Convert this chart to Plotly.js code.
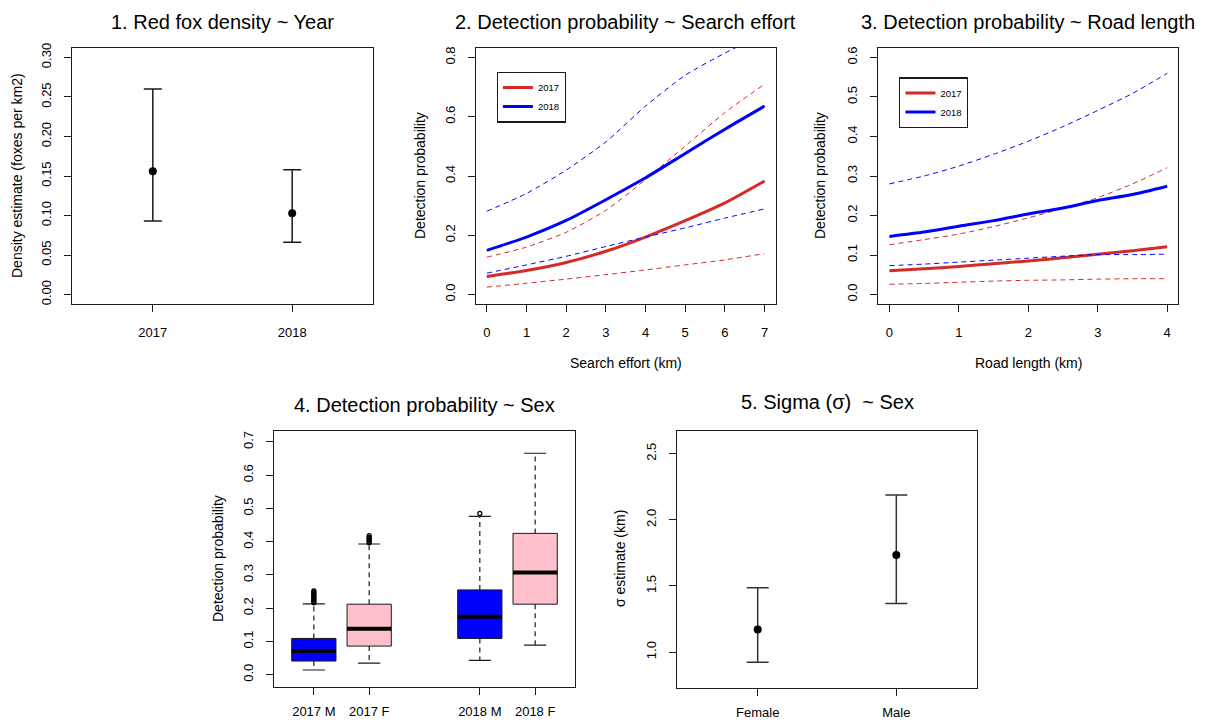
<!DOCTYPE html>
<html>
<head>
<meta charset="utf-8">
<script src="https://cdn.plot.ly/plotly-3.0.1.min.js"></script>
<style>html,body{margin:0;padding:0;background:#fff;}#chart{width:1207px;height:722px;}</style>
</head>
<body>
<div id="chart"></div>
<script>
// ---------- DATA ----------
// Panel 1: Red fox density ~ Year
const years = ["2017", "2018"];
const densityEst = [0.156, 0.103];
const densityLow = [0.093, 0.066];
const densityHigh = [0.260, 0.158];

// Panel 2: Detection probability ~ Search effort
const effortKm = [0, 1, 2, 3, 4, 5, 6, 7];
const eff2017Mean = [0.061, 0.081, 0.108, 0.146, 0.194, 0.249, 0.309, 0.383];
const eff2017Low  = [0.025, 0.038, 0.052, 0.067, 0.083, 0.100, 0.117, 0.138];
const eff2017High = [0.126, 0.160, 0.210, 0.284, 0.388, 0.501, 0.614, 0.710];
const eff2018Mean = [0.149, 0.194, 0.250, 0.320, 0.394, 0.476, 0.558, 0.636];
const eff2018Low  = [0.072, 0.100, 0.129, 0.162, 0.194, 0.225, 0.258, 0.289];
const eff2018High = [0.281, 0.341, 0.420, 0.515, 0.636, 0.740, 0.815, 0.880];

// Panel 3: Detection probability ~ Road length
const roadKm = [0, 0.5, 1, 1.5, 2, 2.5, 3, 3.5, 4];
const road2017Mean = [0.060, 0.065, 0.071, 0.078, 0.085, 0.093, 0.102, 0.111, 0.121];
const road2017Low  = [0.026, 0.028, 0.031, 0.034, 0.036, 0.037, 0.039, 0.040, 0.040];
const road2017High = [0.126, 0.139, 0.153, 0.172, 0.194, 0.218, 0.245, 0.280, 0.321];
const road2018Mean = [0.147, 0.158, 0.173, 0.187, 0.204, 0.219, 0.238, 0.253, 0.274];
const road2018Low  = [0.073, 0.077, 0.082, 0.087, 0.092, 0.097, 0.101, 0.101, 0.102];
const road2018High = [0.280, 0.300, 0.325, 0.355, 0.388, 0.425, 0.466, 0.509, 0.560];
const legendYears = ["2017", "2018"];

// Panel 4: Detection probability ~ Sex (boxplots)
const boxLabels = ["2017 M", "2017 F", "2018 M", "2018 F"];
const boxYearIdx = [0, 0, 1, 1];
const boxSexIdx = [0, 1, 0, 1];
const boxLowerWhisker = [0.014, 0.035, 0.043, 0.089];
const boxQ1 = [0.041, 0.086, 0.109, 0.212];
const boxMedian = [0.071, 0.138, 0.174, 0.307];
const boxQ3 = [0.109, 0.212, 0.255, 0.425];
const boxUpperWhisker = [0.213, 0.393, 0.476, 0.666];
const boxOutliers = [
  [0.216, 0.220, 0.224, 0.228, 0.232, 0.236, 0.240, 0.244, 0.248, 0.252],
  [0.397, 0.401, 0.405, 0.409, 0.413, 0.418],
  [0.485],
  []
];

// Panel 5: Sigma ~ Sex
const sexes = ["Female", "Male"];
const sigmaEst = [1.171, 1.734];
const sigmaLow = [0.922, 1.368];
const sigmaHigh = [1.487, 2.187];

// ---------- STYLE ----------
const W = 1207, H = 722;
const FONT = "Liberation Sans, Arial, sans-serif";
const RED = "#d42a2a", BLUE = "#0000ff", INK = "#1a1a1a";
const boxFill = ["#0000ff", "#ffc0cb"];
const px = v => v / W;
const py = v => 1 - v / H;

const traces = [];

// Panel 1
traces.push({
  type: "scatter", mode: "markers", x: years, y: densityEst, xaxis: "x", yaxis: "y",
  marker: {color: "#000", size: 8}, showlegend: false,
  error_y: {type: "data", symmetric: false,
    array: densityHigh.map((h, i) => h - densityEst[i]),
    arrayminus: densityLow.map((l, i) => densityEst[i] - l),
    color: INK, thickness: 1.5, width: 9}
});

// Panels 2 & 3 line sets
function lineSet(xs, mean, low, high, color, name, xa, ya, legend) {
  traces.push({type: "scatter", mode: "lines", x: xs, y: low, xaxis: xa, yaxis: ya,
    line: {color: color, width: 1, dash: "5px,4px", shape: "spline", smoothing: 0.6}, showlegend: false, hoverinfo: "skip"});
  traces.push({type: "scatter", mode: "lines", x: xs, y: high, xaxis: xa, yaxis: ya,
    line: {color: color, width: 1, dash: "5px,4px", shape: "spline", smoothing: 0.6}, showlegend: false, hoverinfo: "skip"});
  traces.push({type: "scatter", mode: "lines", x: xs, y: mean, xaxis: xa, yaxis: ya, name: name,
    line: {color: color, width: 3, shape: "spline", smoothing: 0.6}, showlegend: true, legend: legend});
}
lineSet(effortKm, eff2017Mean, eff2017Low, eff2017High, RED, legendYears[0], "x2", "y2", "legend");
lineSet(effortKm, eff2018Mean, eff2018Low, eff2018High, BLUE, legendYears[1], "x2", "y2", "legend");
lineSet(roadKm, road2017Mean, road2017Low, road2017High, RED, legendYears[0], "x3", "y3", "legend2");
lineSet(roadKm, road2018Mean, road2018Low, road2018High, BLUE, legendYears[1], "x3", "y3", "legend2");

// Panel 4 boxplots
const boxPos = boxYearIdx.map((yi, i) => yi * 3 + boxSexIdx[i] + 1);
const halfBox = 0.4, halfStaple = 0.2;
boxLabels.forEach((lab, i) => {
  const xc = boxPos[i];
  traces.push({type: "box", xaxis: "x4", yaxis: "y4", x: [xc], name: lab,
    q1: [boxQ1[i]], median: [boxMedian[i]], q3: [boxQ3[i]],
    lowerfence: [boxQ1[i]], upperfence: [boxQ3[i]],
    width: 2 * halfBox, whiskerwidth: 0, fillcolor: boxFill[boxSexIdx[i]],
    line: {color: INK, width: 1}, showlegend: false, boxpoints: false});
  // dashed whiskers
  traces.push({type: "scatter", mode: "lines", xaxis: "x4", yaxis: "y4",
    x: [xc, xc, null, xc, xc], y: [boxQ3[i], boxUpperWhisker[i], null, boxQ1[i], boxLowerWhisker[i]],
    line: {color: INK, width: 1.2, dash: "5px,4px"}, showlegend: false, hoverinfo: "skip"});
  // staples
  traces.push({type: "scatter", mode: "lines", xaxis: "x4", yaxis: "y4",
    x: [xc - halfStaple, xc + halfStaple, null, xc - halfStaple, xc + halfStaple],
    y: [boxUpperWhisker[i], boxUpperWhisker[i], null, boxLowerWhisker[i], boxLowerWhisker[i]],
    line: {color: INK, width: 1.2}, showlegend: false, hoverinfo: "skip"});
  // thick median
  traces.push({type: "scatter", mode: "lines", xaxis: "x4", yaxis: "y4",
    x: [xc - halfBox, xc + halfBox], y: [boxMedian[i], boxMedian[i]],
    line: {color: "#000", width: 4}, showlegend: false, hoverinfo: "skip"});
  // outliers
  if (boxOutliers[i].length) {
    traces.push({type: "scatter", mode: "markers", xaxis: "x4", yaxis: "y4",
      x: boxOutliers[i].map(() => xc), y: boxOutliers[i],
      marker: {color: "#000", size: 4, symbol: "circle-open", line: {width: 1.3, color: "#000"}},
      showlegend: false});
  }
});

// Panel 5
traces.push({
  type: "scatter", mode: "markers", x: sexes, y: sigmaEst, xaxis: "x5", yaxis: "y5",
  marker: {color: "#000", size: 8}, showlegend: false,
  error_y: {type: "data", symmetric: false,
    array: sigmaHigh.map((h, i) => h - sigmaEst[i]),
    arrayminus: sigmaLow.map((l, i) => sigmaEst[i] - l),
    color: "#333", thickness: 1.5, width: 11}
});

// ---------- LAYOUT ----------
const tickFont = {family: FONT, size: 13, color: "#000"};
function xAx(domain, anchor, extra) {
  return Object.assign({domain: domain, anchor: anchor, showgrid: false, zeroline: false,
    showline: true, mirror: true, linecolor: INK, linewidth: 1,
    ticks: "outside", ticklen: 7, tickcolor: INK, tickwidth: 1,
    tickfont: tickFont, ticklabelstandoff: 9}, extra);
}
function yAx(domain, anchor, extra) {
  return Object.assign({domain: domain, anchor: anchor, showgrid: false, zeroline: false,
    showline: true, mirror: true, linecolor: INK, linewidth: 1,
    ticks: "outside", ticklen: 7, tickcolor: INK, tickwidth: 1,
    tickfont: tickFont, tickangle: -90, ticklabelstandoff: 8}, extra);
}
const rowTop = [py(304), py(48)];
const rowBot = [py(688), py(431)];

const layout = {
  width: W, height: H, margin: {l: 0, r: 0, t: 0, b: 0},
  paper_bgcolor: "#fff", plot_bgcolor: "#fff",
  font: {family: FONT, color: "#000"},
  xaxis: xAx([px(72), px(373)], "y", {type: "category", range: [-0.58, 1.58]}),
  yaxis: yAx(rowTop, "x", {range: [-0.012, 0.312], tickvals: [0, 0.05, 0.1, 0.15, 0.2, 0.25, 0.3], tickformat: ".2f"}),
  xaxis2: xAx([px(475.7), px(775.7)], "y2", {range: [-0.28, 7.28], dtick: 1, tick0: 0}),
  yaxis2: yAx(rowTop, "x2", {range: [-0.032, 0.832], tickvals: [0, 0.2, 0.4, 0.6, 0.8], tickformat: ".1f"}),
  xaxis3: xAx([px(878.3), px(1178.3)], "y3", {range: [-0.16, 4.16], dtick: 1, tick0: 0}),
  yaxis3: yAx(rowTop, "x3", {range: [-0.024, 0.624], tickvals: [0, 0.1, 0.2, 0.3, 0.4, 0.5, 0.6], tickformat: ".1f"}),
  xaxis4: xAx([px(274), px(575)], "y4", {range: [0.28, 5.72], tickvals: boxPos, ticktext: boxLabels, ticklabelstandoff: 5}),
  yaxis4: yAx([py(687.3), py(431)], "x4", {range: [-0.038, 0.733], tickvals: [0, 0.1, 0.2, 0.3, 0.4, 0.5, 0.6, 0.7], tickformat: ".1f"}),
  xaxis5: xAx([px(677.3), px(976.7)], "y5", {type: "category", range: [-0.58, 1.58], ticklabelstandoff: 5}),
  yaxis5: yAx(rowBot, "x5", {range: [0.728, 2.672], tickvals: [1.0, 1.5, 2.0, 2.5], tickformat: ".1f"}),
  legend: {x: px(496.7), y: py(71.7), xanchor: "left", yanchor: "top", bgcolor: "#fff",
    bordercolor: INK, borderwidth: 1.2, font: {family: FONT, size: 9.5, color: "#000"}, itemwidth: 30,
    tracegroupgap: 0},
  legend2: {x: px(899.3), y: py(77.3), xanchor: "left", yanchor: "top", bgcolor: "#fff",
    bordercolor: INK, borderwidth: 1.2, font: {family: FONT, size: 9.5, color: "#000"}, itemwidth: 30,
    tracegroupgap: 0},
  annotations: []
};

const titleFont = {family: FONT, size: 20, color: "#000"};
const axTitleFont = {family: FONT, size: 14, color: "#000"};
function ann(text, x, y, font, angle) {
  layout.annotations.push({text: text, x: px(x), y: py(y), xref: "paper", yref: "paper",
    xanchor: "center", yanchor: "middle", showarrow: false, font: font, textangle: angle || 0});
}
ann("1. Red fox density ~ Year", 222.5, 22, titleFont);
ann("2. Detection probability ~ Search effort", 625.7, 22, titleFont);
ann("3. Detection probability ~ Road length", 1028, 22, titleFont);
ann("4. Detection probability ~ Sex", 424.5, 405, titleFont);
ann("5. Sigma (σ)  ~ Sex", 827, 402, titleFont);

ann("Density estimate (foxes per km2)", 17, 176, axTitleFont, -90);
ann("Detection probability", 420, 176, axTitleFont, -90);
ann("Detection probability", 820, 176, axTitleFont, -90);
ann("Detection probability", 218, 559, axTitleFont, -90);
ann("σ estimate (km)", 620, 559, axTitleFont, -90);
ann("Search effort (km)", 625.7, 363, axTitleFont);
ann("Road length (km)", 1028.3, 363, axTitleFont);

Plotly.newPlot("chart", traces, layout, {displayModeBar: false, staticPlot: true});
</script>
</body>
</html>
